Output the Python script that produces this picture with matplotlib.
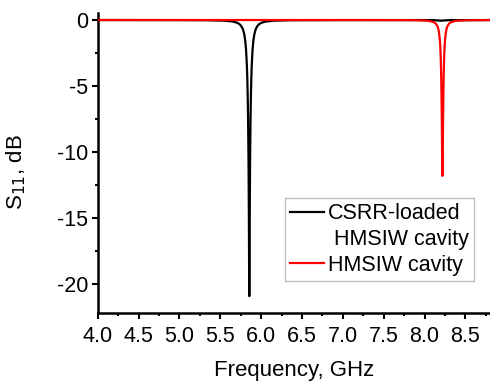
import matplotlib
matplotlib.use("Agg")
import matplotlib.pyplot as plt
from matplotlib.lines import Line2D
from matplotlib.ticker import MultipleLocator

plt.rcParams['font.family'] = ['Liberation Sans', 'DejaVu Sans']

# CSRR-loaded HMSIW cavity
freq_csrr = [4.0, 5.0, 5.355, 5.555, 5.655, 5.705, 5.735, 5.755, 5.775, 5.785, 5.795,
             5.805, 5.815, 5.825, 5.83, 5.835, 5.84, 5.845, 5.8475, 5.85, 5.8525,
             5.855,
             5.8575, 5.86, 5.8625, 5.865, 5.87, 5.875, 5.88, 5.885, 5.895, 5.905,
             5.915, 5.925, 5.935, 5.955, 5.975, 6.005, 6.055, 6.155, 6.355, 7.0,
             8.0, 8.1, 8.15, 8.2, 8.25, 8.3, 8.8]
s11_csrr = [-0.003, -0.007, -0.019, -0.052, -0.116, -0.204, -0.314, -0.445, -0.677, -0.864, -1.14,
            -1.556, -2.23, -3.40, -4.32, -5.61, -7.50, -10.39, -12.46, -15.19, -18.6,
            -20.9,
            -18.6, -15.19, -12.46, -10.39, -7.50, -5.61, -4.32, -3.40, -2.23, -1.556,
            -1.14, -0.864, -0.677, -0.445, -0.314, -0.204, -0.116, -0.052, -0.019, -0.006,
            -0.004, -0.01, -0.03, -0.05, -0.03, -0.01, -0.003]

# HMSIW cavity
freq_hmsiw = [4.0, 7.0, 7.718, 7.918, 8.018, 8.068, 8.118, 8.138, 8.158, 8.168, 8.178,
              8.188, 8.193, 8.198, 8.203, 8.208, 8.2105, 8.213, 8.2155,
              8.218,
              8.2205, 8.223, 8.2255, 8.228, 8.233, 8.238, 8.243, 8.248, 8.258, 8.268,
              8.278, 8.298, 8.318, 8.368, 8.418, 8.518, 8.8]
s11_hmsiw = [-0.001, -0.002, -0.007, -0.021, -0.046, -0.082, -0.182, -0.281, -0.486, -0.681, -1.02,
             -1.65, -2.19, -3.01, -4.29, -6.33, -7.75, -9.42, -11.05,
             -11.8,
             -11.05, -9.42, -7.75, -6.33, -4.29, -3.01, -2.19, -1.65, -1.02, -0.681,
             -0.486, -0.281, -0.182, -0.082, -0.046, -0.021, -0.003]

labels = ["CSRR-loaded", " HMSIW cavity", "HMSIW cavity"]
xticks = [4.0, 4.5, 5.0, 5.5, 6.0, 6.5, 7.0, 7.5, 8.0, 8.5]
yticks = [0, -5, -10, -15, -20]

W, H = 490, 383
fig = plt.figure(figsize=(W / 100, H / 100), dpi=100)
left, right = 97.7, 490
bottom, top = 313.3, 13.4
ax = fig.add_axes([left / W, 1 - bottom / H, (right - left) / W, (bottom - top) / H])

ax.plot(freq_csrr, s11_csrr, color='black', lw=1.6, solid_joinstyle='round', zorder=2)
ax.plot(freq_hmsiw, s11_hmsiw, color='#ff0000', lw=1.6, solid_joinstyle='round', zorder=3)

ax.set_xlim(4.0, 8.8)
ax.set_ylim(-22.2, 0.5)
ax.set_xticks(xticks)
ax.set_xticklabels([f"{v:.1f}" for v in xticks])
ax.set_yticks(yticks)
ax.set_yticklabels([f"{v:d}" for v in yticks])
ax.xaxis.set_minor_locator(MultipleLocator(0.25))
ax.yaxis.set_minor_locator(MultipleLocator(2.5))

for s in ['top', 'right']:
    ax.spines[s].set_visible(False)
for s in ['left', 'bottom']:
    ax.spines[s].set_linewidth(1.8)

ax.tick_params(which='major', direction='out', length=4.5, width=1.5, labelsize=15.5, pad=2.5)
ax.tick_params(which='minor', direction='out', length=2.5, width=1.5)
ax.tick_params(axis='x', which='major', pad=5)

ax.set_xlabel("Frequency, GHz", fontsize=16, labelpad=9)
ax.set_ylabel("S$_{11}$, dB", fontsize=16)
ax.yaxis.set_label_coords(-0.178, 0.47)

handles = [Line2D([], [], color='black', lw=1.6),
           Line2D([], [], color='none', lw=1.6),
           Line2D([], [], color='#ff0000', lw=1.6)]
leg = ax.legend(handles, labels, loc='upper left',
                bbox_to_anchor=(285 / W, 1 - 198 / H), bbox_transform=fig.transFigure,
                borderaxespad=0, fontsize=15.5, frameon=True, fancybox=False,
                handlelength=1.55, handletextpad=0.2, labelspacing=0.22,
                borderpad=0.25)
leg.get_frame().set_edgecolor('#b0b0b0')
leg.get_frame().set_linewidth(1.0)

fig.savefig("out.png", dpi=100)
